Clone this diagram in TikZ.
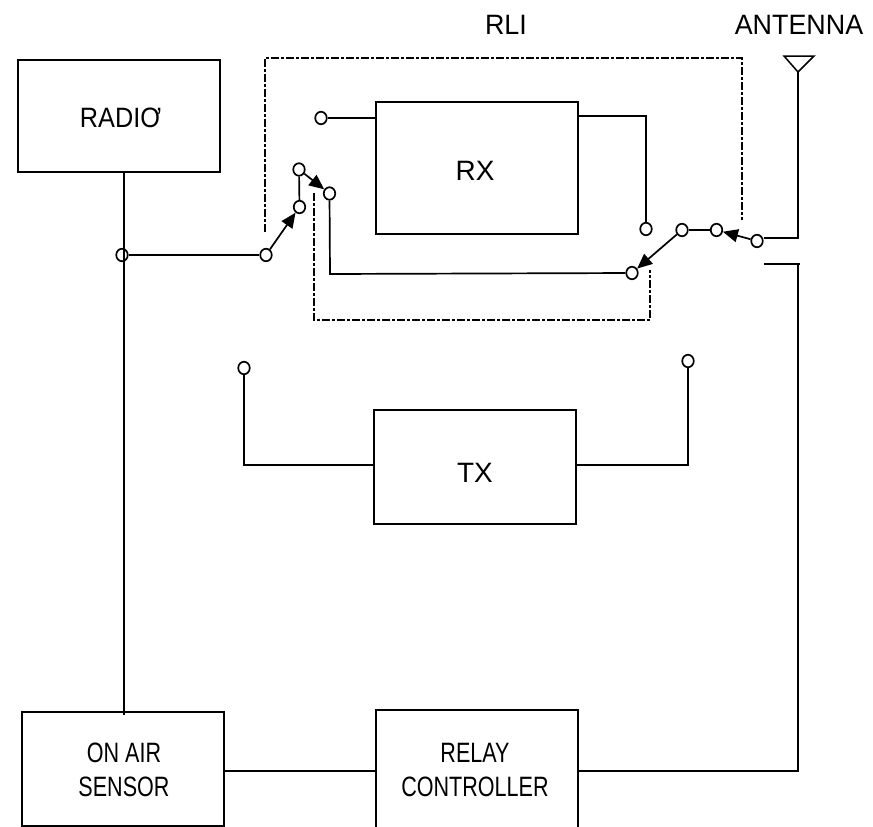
\documentclass[tikz,border=0pt]{standalone}
\usepackage{fontspec}
\setmainfont{Liberation Sans}
\usetikzlibrary{arrows.meta,calc}
\tikzset{
  x=1pt,y=-1pt,
  wire/.style={line width=1.7pt,line join=miter},
  boxn/.style={draw,line width=1.7pt,inner sep=0pt,fill=white},
  term/.style={ellipse,draw,line width=1.7pt,fill=white,minimum width=11.5pt,minimum height=12.5pt,inner sep=0pt},
  sw/.style={wire,-{Triangle[length=15pt,width=13pt]},shorten >=0pt},
  dd/.style={line width=1.3pt,dash pattern=on 8pt off 2pt on 3pt off 2pt},
  lab/.style={font=\fontsize{28}{28}\selectfont,inner sep=0pt,transform shape,xscale=.96},
  labs/.style={font=\fontsize{28}{34}\selectfont,inner sep=0pt,transform shape,xscale=.77,align=center}
}
\usetikzlibrary{shapes.geometric}
\begin{document}
\begin{tikzpicture}
\useasboundingbox (0,0) rectangle (873,827);
\clip (0,0) rectangle (873,827);
% boxes
\node[boxn,minimum width=202pt,minimum height=112pt] (radio) at (119,116) {};
\node[boxn,minimum width=202pt,minimum height=132pt] (rx) at (477,168) {};
\node[boxn,minimum width=202pt,minimum height=114pt] (tx) at (475,467) {};
\node[boxn,minimum width=202pt,minimum height=114pt] (air) at (123,769) {};
\node[boxn,minimum width=202pt,minimum height=136pt] (relay) at (477,778) {};
% labels
\node[lab,xscale=1] (trli) at (506,25) {RLI};
\node[lab] (tant) at (799,25) {ANTENNA};
\node[lab,xscale=.94] (tradio) at (121,118) {RADIO\kern-4pt'};
\node[lab,xscale=1.04] (trx) at (475,171) {RX};
\node[lab,xscale=1.04] (ttx) at (475,473) {TX};
\node[labs] (tair) at (124,770) {ON AIR\\SENSOR};
\node[labs] (trelay) at (475,770) {RELAY\\CONTROLLER};
% dash-dot enclosures
\coordinate (d1) at (265,232); \coordinate (d2) at (265,58);
\coordinate (d3) at (742,58); \coordinate (d4) at (742,220);
\coordinate (e1) at (314,193); \coordinate (e2) at (314,320);
\coordinate (e3) at (650,320); \coordinate (e4) at (650,270);
\draw[dd] (d1) -- (d2) -- (d3) -- (d4);
\draw[dd] (e1) -- (e2) -- (e3) -- (e4);
% terminals
\node[term] (r1) at (122,255) {};
\node[term] (s1) at (266,255) {};
\node[term] (s2) at (299.5,207) {};
\node[term] (s3) at (299,169.5) {};
\node[term] (s4) at (329.5,193.5) {};
\node[term] (rxi) at (321,118) {};
\node[term] (rxo) at (646,229) {};
\node[term] (k1) at (632,273) {};
\node[term] (k2) at (682,230) {};
\node[term] (k3) at (716.5,230) {};
\node[term] (k4) at (757,241) {};
\node[term] (t1) at (244,368) {};
\node[term] (t2) at (688,361) {};
% antenna
\coordinate (tip) at (798,72);
\coordinate (al) at (784,56);
\coordinate (ar) at (814,56);
\draw[line width=1.5pt,line join=miter] (al) -- (ar) -- (tip) -- cycle;
% coordinates on connectors
\coordinate (radiob) at (124,172);
\coordinate (airt) at (124,715);
\coordinate (c1) at (798,238);
\coordinate (c2) at (798,771);
\coordinate (c3) at (798,264);
\coordinate (c4) at (764,264);
\coordinate (c5) at (330,274);
% wires
\draw[wire] (radiob) -- (airt);
\draw[wire] (r1) -- (s1);
\draw[sw] (s1) -- (s2);
\draw[wire] (s3) -- (s2);
\draw[sw] (s3) -- (s4);
\draw[wire] (s4) -- (c5) -- (k1);
\draw[sw] (k2) -- (k1);
\draw[wire] (k2) -- (k3);
\draw[sw] (k4) -- (k3);
\draw[wire] (k4.east |- c1) -- (c1) -- (tip);
\draw[wire,shorten >=-2pt] (rxi) -- (rx.west |- rxi);
\draw[wire] (rx.east |- 0,116) -| (rxo);
\draw[wire] (t1) |- (tx.west |- 0,465);
\draw[wire] (tx.east |- 0,465) -| (t2);
\draw[wire,shorten >=-2pt] (air.east |- c2) -- (relay.west |- c2);
\draw[wire] (relay.east |- c2) -- (c2) -- (c3);
\draw[wire,shorten <=-2pt] (c3) -- (c4);
\end{tikzpicture}
\end{document}
